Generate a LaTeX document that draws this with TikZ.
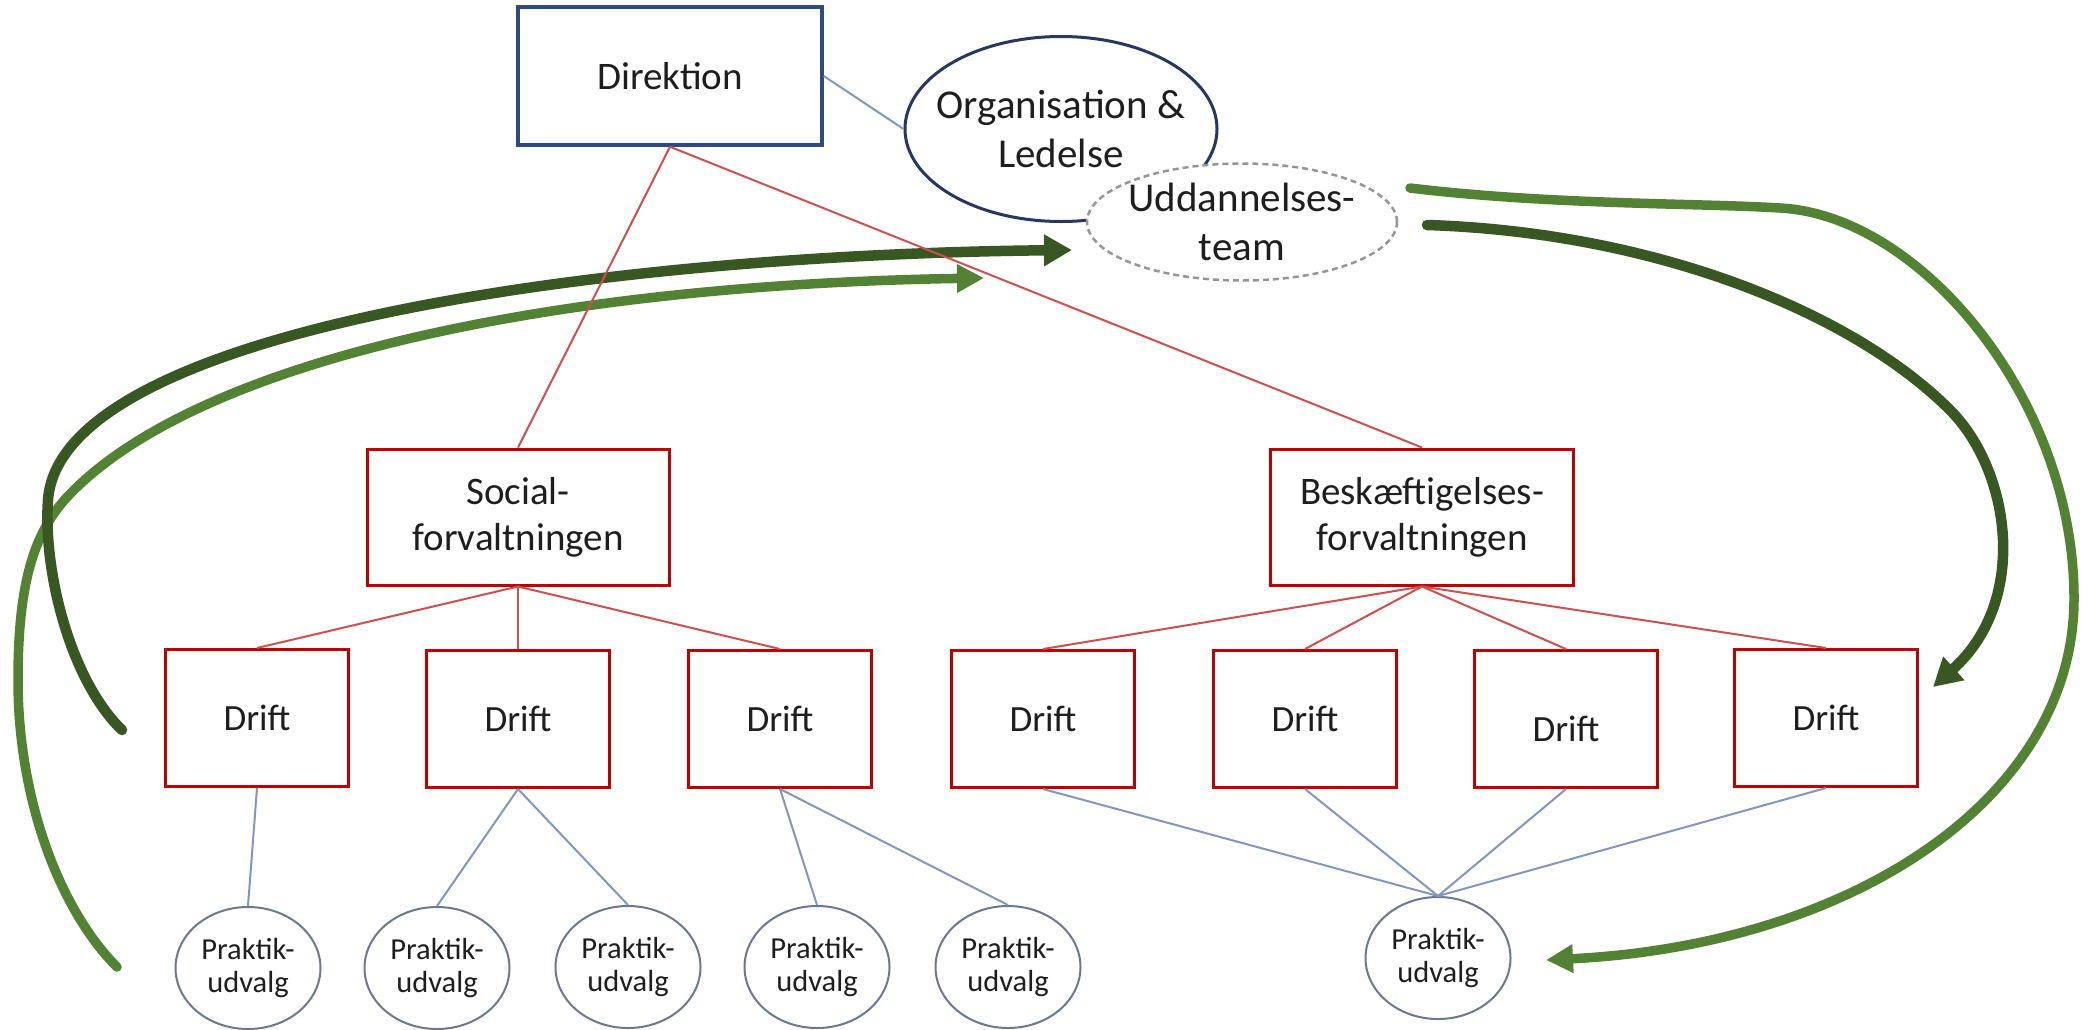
\documentclass[tikz,border=0pt]{standalone}
\usepackage{fontspec}
\setmainfont{Carlito}
\usetikzlibrary{arrows.meta,shapes.geometric}
\definecolor{boxred}{RGB}{192,0,0}
\definecolor{linered}{RGB}{205,80,80}
\definecolor{lineblue}{RGB}{130,150,190}
\definecolor{dirblue}{RGB}{47,75,125}
\definecolor{orgblue}{RGB}{40,55,95}
\definecolor{pgray}{RGB}{110,120,140}
\definecolor{dashgray}{RGB}{150,150,150}
\definecolor{dkgreen}{RGB}{56,87,35}
\definecolor{ltgreen}{RGB}{84,130,53}
\definecolor{txt}{RGB}{30,30,30}
\newcommand\myfs[2]{\fontsize{#1}{#2}\selectfont}
\begin{document}
\begin{tikzpicture}[x=1pt,y=-1pt,
  redbox/.style={draw=boxred, line width=3pt, fill=white, inner sep=0pt, align=center, text=txt},
  driftbox/.style={redbox, minimum width=183pt, minimum height=137pt, font=\myfs{37}{44}},
  forvbox/.style={redbox, minimum width=302pt, minimum height=136pt, font=\myfs{39}{46}},
  pell/.style={ellipse, draw=pgray, line width=2pt, fill=white, inner sep=0pt, align=center, text=txt,
    minimum width=145pt, minimum height=122pt, font=\myfs{30.5}{33}},
  redline/.style={draw=linered, line width=2pt},
  blueline/.style={draw=lineblue, line width=2pt},
  darkarrow/.style={draw=dkgreen, line width=10.5pt, line cap=round, -{Triangle[length=28pt,width=30pt]}},
  lightarrow/.style={draw=ltgreen, line width=9.5pt, line cap=round, -{Triangle[length=27pt,width=27pt]}}
]
\fill[white] (0,0) rectangle (2091,1029);
\useasboundingbox (0,0) rectangle (2091,1029);

% top nodes
\node[draw=dirblue, line width=3.5pt, fill=white, minimum width=304pt, minimum height=138pt,
  inner sep=0pt, text=txt, font=\myfs{39}{46}] (dir) at (670,76) {Direktion};
\node[ellipse, draw=orgblue, line width=3pt, fill=white, minimum width=312pt, minimum height=185pt,
  inner xsep=-20pt, inner ysep=0pt, align=center, text=txt, font=\myfs{41}{49}] (org) at (1061,129)
  {Organisation \&\\Ledelse};
\node[ellipse, draw=dashgray, line width=2.5pt, dash pattern=on 6pt off 4pt, fill=white,
  minimum width=310pt, minimum height=117pt, inner xsep=-10pt, inner ysep=-14pt, align=center,
  text=txt, font=\myfs{41}{49}] (udd) at (1242,222) {Uddannelses-\\team};

% middle
\node[forvbox] (soc) at (518,517) {Social-\\forvaltningen};
\node[forvbox, minimum width=303pt] (besk) at (1422,517) {Beskæftigelses-\\forvaltningen};

% drift
\node[driftbox] (d1) at (257,718) {Drift};
\node[driftbox] (d2) at (518,719) {Drift};
\node[driftbox] (d3) at (780,719) {Drift};
\node[driftbox] (d4) at (1043,719) {Drift};
\node[driftbox] (d5) at (1305,719) {Drift};
\node[driftbox] (d6) at (1566,719) {\raisebox{-10pt}[\height][\depth]{Drift}};
\node[driftbox] (d7) at (1826,718) {Drift};

% praktik
\node[pell] (p1) at (248,968) {Praktik-\\udvalg};
\node[pell] (p2) at (437,968) {Praktik-\\udvalg};
\node[pell] (p3) at (628,967) {Praktik-\\udvalg};
\node[pell] (p4) at (817,967) {Praktik-\\udvalg};
\node[pell] (p5) at (1008,967) {Praktik-\\udvalg};
\node[pell] (p6) at (1438,958) {Praktik-\\udvalg};

% green arrows
\coordinate (dgL0) at (122,730);
\coordinate (dgL1) at (1072,250);
\coordinate (lgL0) at (117,967);
\coordinate (lgL1) at (984,278);
\coordinate (lgR0) at (1410,188);
\coordinate (lgR1) at (1546,960);
\coordinate (dgR0) at (1427,225);
\coordinate (dgR1) at (1933,687);

\draw[lightarrow] (lgL0) .. controls (60,910) and (18,800) .. (18,680)
  .. controls (18,580) and (35,530) .. (70,494)
  .. controls (200,360) and (550,285) .. (lgL1);
\draw[darkarrow] (dgL0) .. controls (70,680) and (43,570) .. (48,500)
  .. controls (60,330) and (600,255) .. (dgL1);
\draw[lightarrow] (lgR0) .. controls (1550,205) and (1700,203) .. (1780,208)
  .. controls (1920,215) and (2075,400) .. (2074,600)
  .. controls (2073,800) and (1850,945) .. (lgR1);
\draw[darkarrow] (dgR0) .. controls (1650,232) and (1850,310) .. (1950,410)
  .. controls (2010,470) and (2030,600) .. (dgR1);

% connectors
\draw[blueline] (dir.east) -- (org.west);
\draw[redline] (dir.south) -- (soc.north);
\draw[redline] (dir.south) -- (besk.north);
\foreach \d in {d1,d2,d3} \draw[redline] (soc.south) -- (\d.north);
\foreach \d in {d4,d5,d6,d7} \draw[redline] (besk.south) -- (\d.north);
\draw[blueline] (d1.south) -- (p1.north);
\draw[blueline] (d2.south) -- (p2.north);
\draw[blueline] (d2.south) -- (p3.north);
\draw[blueline] (d3.south) -- (p4.north);
\draw[blueline] (d3.south) -- (p5.north);
\foreach \d in {d4,d5,d6,d7} \draw[blueline] (\d.south) -- (p6.north);
\end{tikzpicture}
\end{document}
